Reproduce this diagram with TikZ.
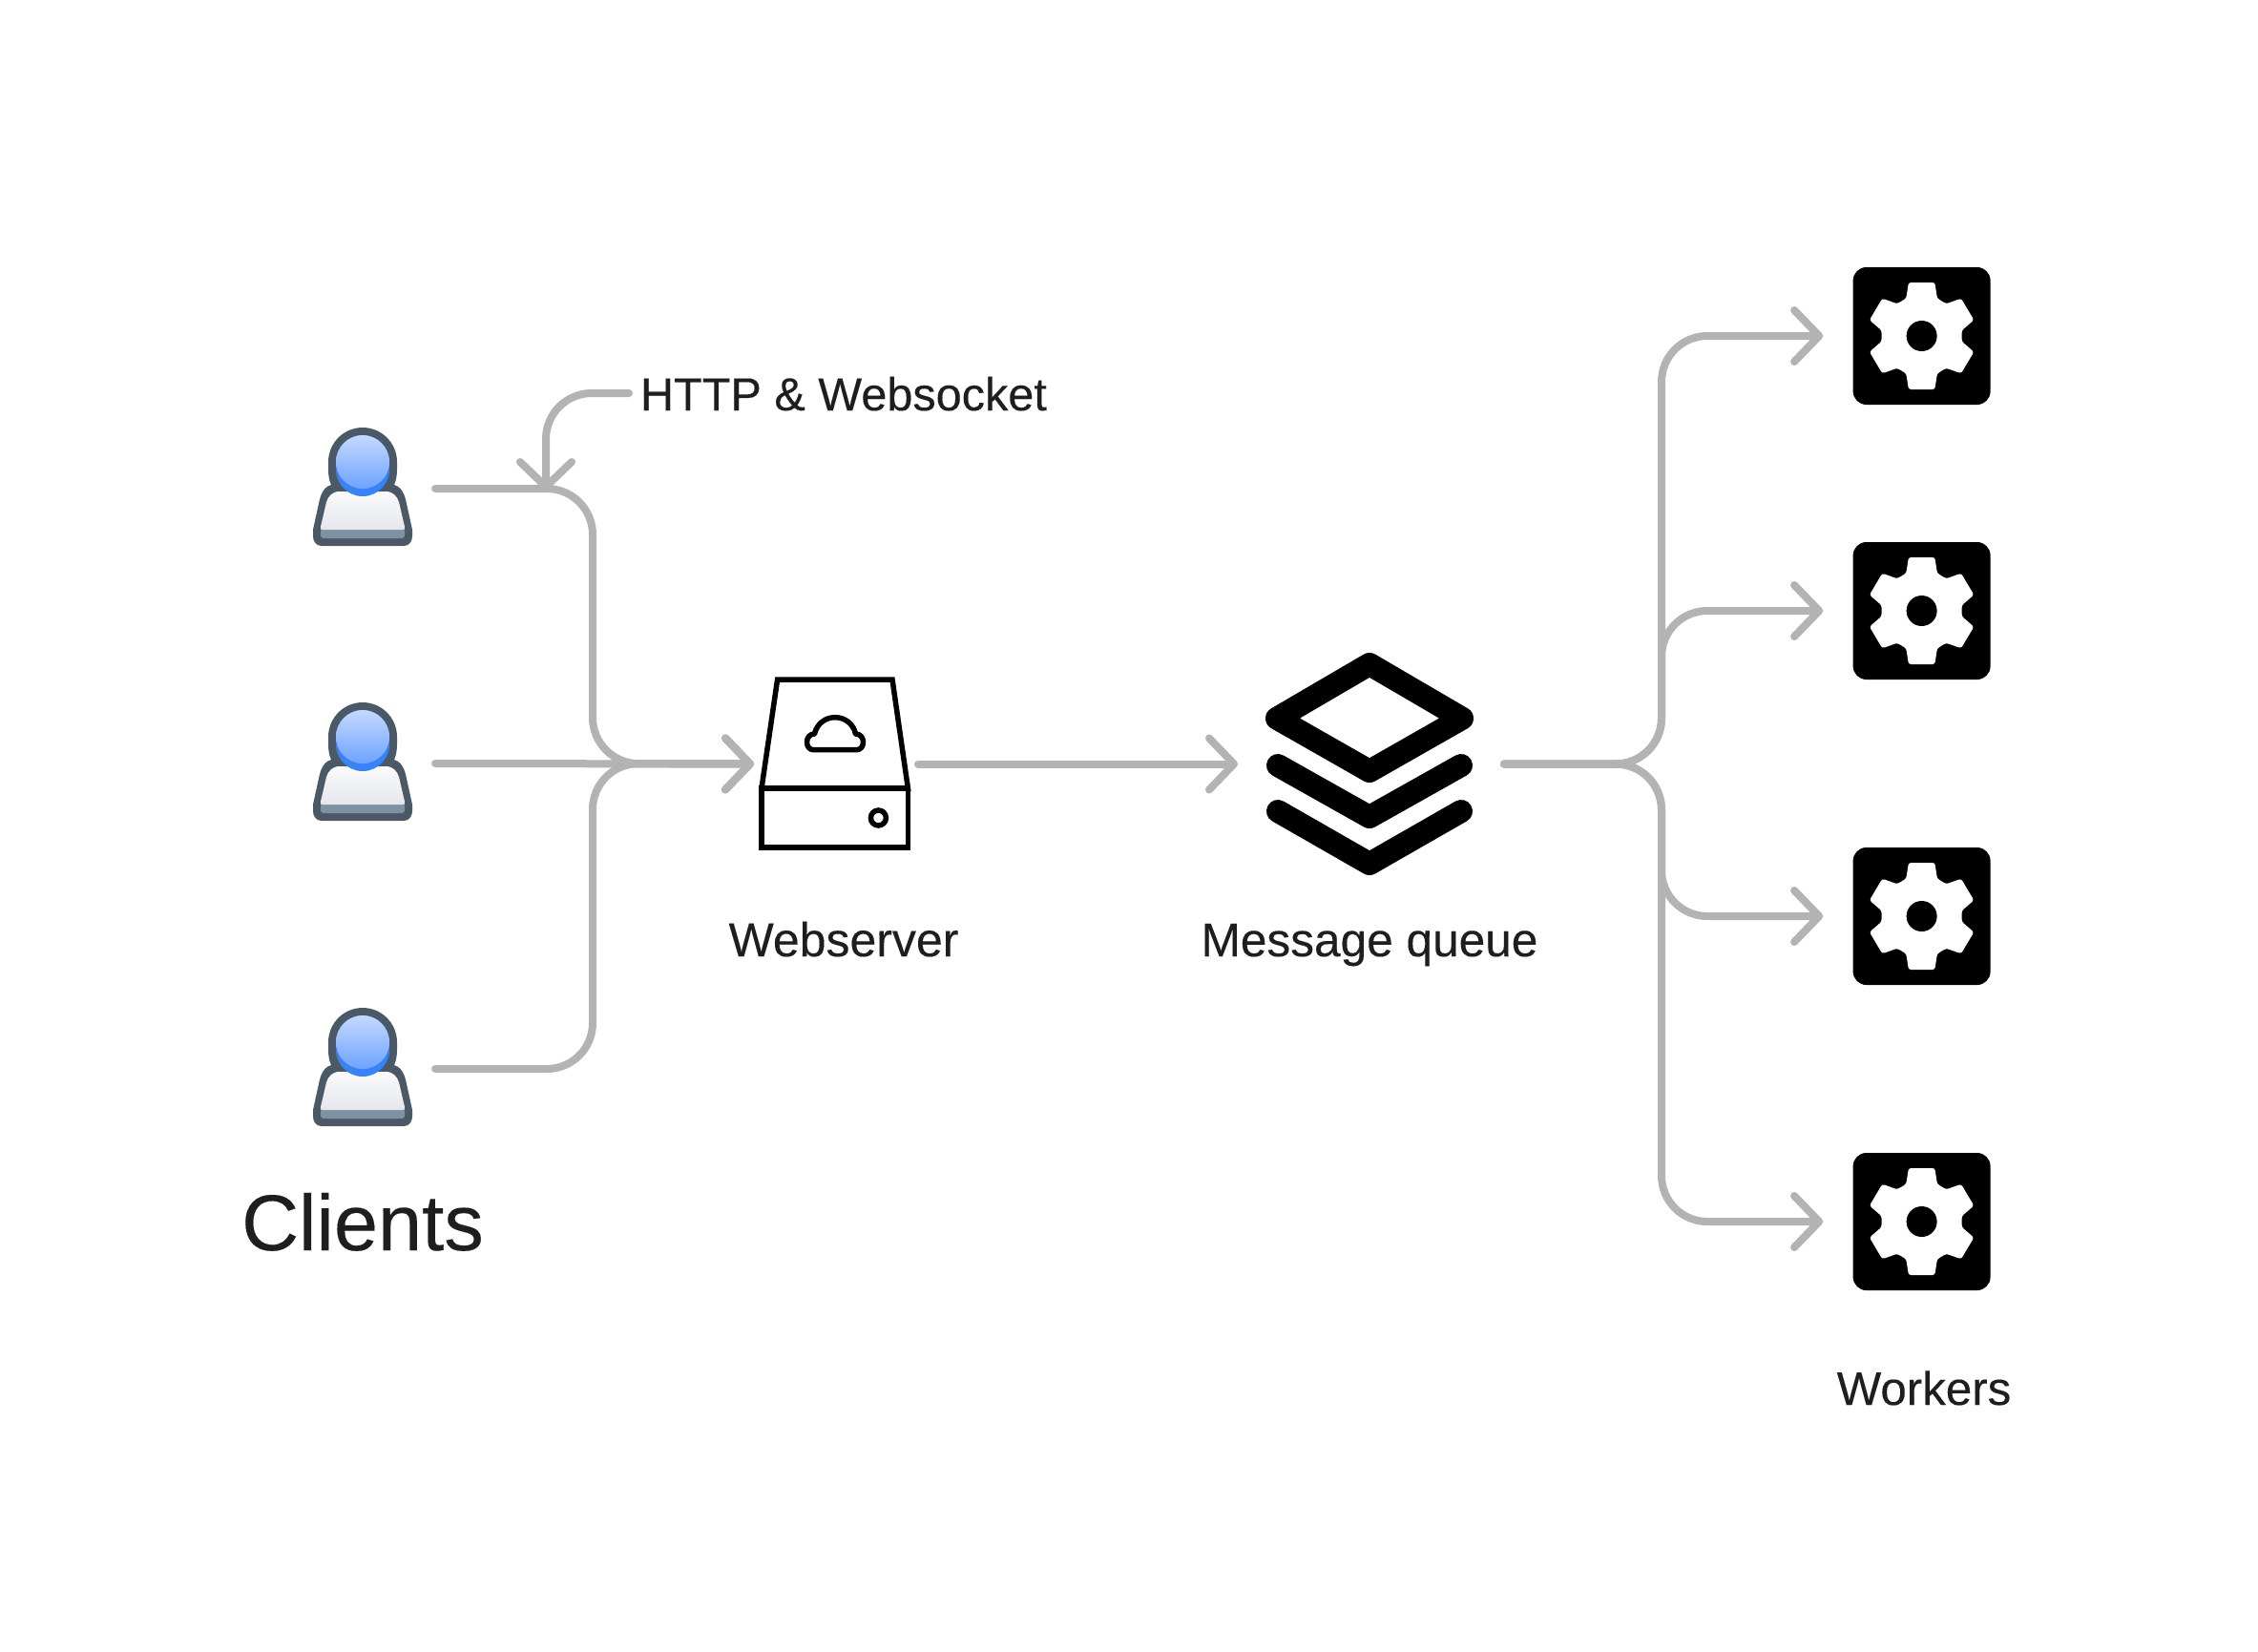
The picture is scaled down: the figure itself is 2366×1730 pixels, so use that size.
\documentclass[tikz,border=0pt]{standalone}
\usepackage{fontspec}
\setmainfont{Liberation Sans}
\usetikzlibrary{arrows.meta}
\definecolor{linegray}{HTML}{B3B3B3}
\definecolor{inkdark}{HTML}{1E1E1E}
\definecolor{slatedark}{HTML}{4B5967}
\definecolor{slateband}{HTML}{8091A2}
\definecolor{blueback}{HTML}{3B82F6}
\definecolor{bluetop}{HTML}{C3D9FF}
\definecolor{bluebot}{HTML}{6FA3FF}
\definecolor{bodytop}{HTML}{F9FAFB}
\definecolor{bodybot}{HTML}{E5E7EB}
\tikzset{
  x=1pt,y=-1pt,
  conn/.style={draw=linegray,line width=8pt,line cap=round,line join=round,rounded corners=48pt},
  arrowed/.style={-{Straight Barb[round,length=26pt,width=54pt]}},
  anchorbox/.style={inner sep=0pt,outer sep=0pt,minimum height=10pt},
  label/.style={inner sep=0pt,outer sep=0pt,text=inkdark,anchor=base},
  personpic/.pic={
    \fill[slatedark] (-36,36) arc[start angle=180,end angle=0,radius=36pt]
      -- (36,44) .. controls (36,50) and (35,56) .. (33,60)
      .. controls (40,62) and (43,68) .. (45,75) -- (52,107) -- (52,114)
      .. controls (52,120) and (48,124) .. (43,124) -- (-43,124)
      .. controls (-48,124) and (-52,120) .. (-52,114) -- (-52,107) -- (-45,75)
      .. controls (-43,68) and (-40,62) .. (-33,60)
      .. controls (-35,56) and (-36,50) .. (-36,44) -- cycle;
    \fill[slateband,rounded corners=3pt] (-44,100) rectangle (44,116);
    \shade[top color=bodytop,bottom color=bodybot]
      (-24,67) -- (24,67) .. controls (32,67) and (36,72) .. (38,78)
      -- (44,104) .. controls (44.5,106) and (44,107) .. (42,107) -- (-42,107)
      .. controls (-44,107) and (-44.5,106) .. (-44,104) -- (-38,78)
      .. controls (-36,72) and (-32,67) .. (-24,67) -- cycle;
    \fill[blueback] (-28,36) arc[start angle=180,end angle=0,radius=28pt]
      -- (28,44) arc[start angle=0,end angle=-180,radius=28pt] -- cycle;
    \shade[top color=bluetop,bottom color=bluebot] (0,36) circle[radius=28pt];
  },
  gearpic/.pic={
    \fill[black,rounded corners=14pt] (-72,-72) rectangle (72,72);
    \fill[white,rounded corners=2.5pt]
      (-13.7,-56) -- (13.7,-56) -- (16.3,-39.3) -- (25.7,-33.7) -- (41.3,-39.3)
      -- (54.7,-16.7) -- (42,-5.7) -- (42,5.7) -- (54.7,16.7) -- (41.3,39.3)
      -- (25.7,33.7) -- (16.3,39.3) -- (13.7,56) -- (-13.7,56) -- (-16.3,39.3)
      -- (-25.7,33.7) -- (-41.3,39.3) -- (-54.7,16.7) -- (-42,5.7) -- (-42,-5.7)
      -- (-54.7,-16.7) -- (-41.3,-39.3) -- (-25.7,-33.7) -- (-16.3,-39.3) -- cycle;
    \fill[black] (0,0) circle[radius=16pt];
  },
}
\begin{document}
\begin{tikzpicture}
\useasboundingbox (0,0) rectangle (2366,1730);
\fill[white] (0,0) rectangle (2366,1730);

% invisible anchors around icons
\node[anchorbox,minimum width=152pt] (client1) at (380,512) {};
\node[anchorbox,minimum width=152pt] (client2) at (380,800) {};
\node[anchorbox,minimum width=152pt] (client3) at (380,1120) {};
\node[anchorbox,minimum width=172pt] (server) at (876,800.5) {};
\node[anchorbox,minimum width=279pt] (queue) at (1436.5,800.5) {};
\node[anchorbox,minimum width=207pt] (worker1) at (2013.6,352) {};
\node[anchorbox,minimum width=207pt] (worker2) at (2013.6,640) {};
\node[anchorbox,minimum width=207pt] (worker3) at (2013.6,960) {};
\node[anchorbox,minimum width=207pt] (worker4) at (2013.6,1280) {};
\coordinate (leftbus) at (621,800);
\coordinate (rightbus) at (1741,800);
\coordinate (httpstart) at (659,412);
\coordinate (httptip) at (572,514);

% icons
\pic at (380,448) {personpic};
\pic at (380,736) {personpic};
\pic at (380,1056) {personpic};
\pic at (2013.6,352) {gearpic};
\pic at (2013.6,640) {gearpic};
\pic at (2013.6,960) {gearpic};
\pic at (2013.6,1280) {gearpic};

% server
\draw[black,line width=5.5pt,miter limit=10] (814.6,712) -- (935,712) -- (951.4,826) -- (798,826) -- cycle;
\draw[black,line width=5.5pt] (798,826) rectangle (951.4,888);
\draw[black,line width=5.5pt] (920.4,857) circle[radius=8pt];
\draw[black,line width=5.5pt,line join=round]
  (852.5,785.7) .. controls (843,785.7) and (843,769) .. (853.5,769)
  .. controls (856,758) and (865,751.7) .. (875,751.7)
  .. controls (885,751.7) and (894,758) .. (896.5,769)
  .. controls (907,769) and (907,785.7) .. (897.5,785.7) -- cycle;

% message queue
\draw[black,line width=24pt,line join=round] (1435,696) -- (1532,752.7) -- (1435,808) -- (1338,752.7) -- cycle;
\draw[black,line width=24pt,line join=round,line cap=round] (1339,802) -- (1435,856) -- (1531,802);
\draw[black,line width=24pt,line join=round,line cap=round] (1339,850) -- (1435,905) -- (1531,850);

% connectors
\draw[conn,arrowed] (client1.east) -| (leftbus) -- (server.west);
\draw[conn,arrowed] (client2.east) -- (server.west);
\draw[conn,arrowed] (client3.east) -| (leftbus) -- (server.west);
\draw[conn,arrowed] (httpstart) -| (httptip);
\draw[conn,arrowed] (server.east) -- (queue.west);
\draw[conn,arrowed] (queue.east) -| (rightbus |- worker1.west) -- (worker1.west);
\draw[conn,arrowed] (queue.east) -| (rightbus |- worker2.west) -- (worker2.west);
\draw[conn,arrowed] (queue.east) -| (rightbus |- worker3.west) -- (worker3.west);
\draw[conn,arrowed] (queue.east) -| (rightbus |- worker4.west) -- (worker4.west);

% labels
\node[label,anchor=base west,font=\fontsize{48.6pt}{58pt}\selectfont\addfontfeature{FakeBold=0.2}] (httplabel) at (671,430) {HTTP \& Websocket};
\node[label,font=\fontsize{50pt}{58pt}\selectfont\addfontfeature{FakeBold=0.2}] (serverlabel) at (884,1002) {Webserver};
\node[label,font=\fontsize{49.6pt}{58pt}\selectfont\addfontfeature{FakeBold=0.2}] (queuelabel) at (1435,1002) {Message queue};
\node[label,font=\fontsize{49.3pt}{58pt}\selectfont\addfontfeature{FakeBold=0.2}] (workerslabel) at (2016,1472) {Workers};
\node[label,font=\fontsize{83pt}{96pt}\selectfont\addfontfeature{FakeBold=0.2}] (clientslabel) at (380,1310) {Clients};
\end{tikzpicture}
\end{document}
